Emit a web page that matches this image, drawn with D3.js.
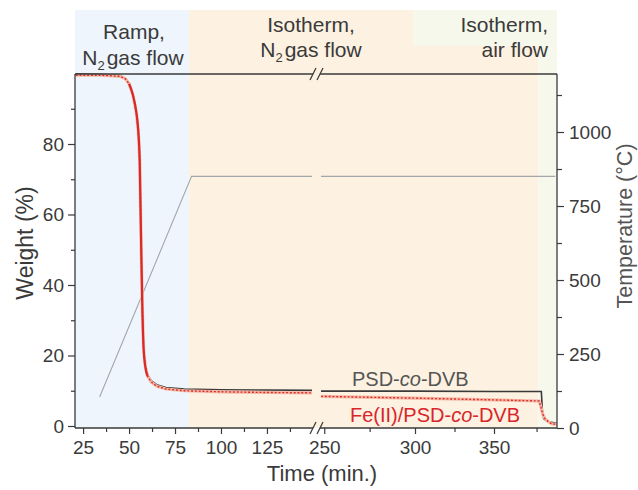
<!DOCTYPE html>
<html><head><meta charset="utf-8">
<script src="https://cdn.jsdelivr.net/npm/d3@7"></script>
<style>
body{margin:0;background:#fff}
svg{display:block;font-family:"Liberation Sans",Arial,Helvetica,sans-serif}
</style>
</head><body>
<svg id="chart" width="638" height="490"></svg>
<script>
// ---------- data ----------
const psdTime   = [21, 35, 45, 48, 50, 52, 54, 55, 55.8, 56.3, 56.8, 57.3, 57.9, 58.8, 60, 62, 65, 70, 80, 100, 125, 149.5,
                   248.2, 300, 350, 377.8, 378.4, 379.2, 382, 387];
const psdWeight = [99.9, 99.8, 99.4, 98.6, 97.2, 94.2, 89, 84, 75, 60, 45, 32, 22, 17.2, 14.6, 12.9, 11.7, 10.9, 10.5, 10.3, 10.2, 10.1,
                   9.9, 9.9, 9.8, 9.8, 4.5, 2.0, 1.2, 0.8];
const feTime    = [21, 35, 45, 48, 50, 52, 54, 55, 55.8, 56.3, 56.8, 57.3, 57.9, 58.8, 60, 62, 65, 70, 80, 100, 125, 149.5,
                   248.2, 300, 350, 376.5, 377.5, 378.5, 380, 382, 384, 387];
const feWeight  = [99.5, 99.5, 99.2, 98.5, 97.1, 94.1, 88.8, 83.8, 75, 60, 45, 32, 22, 17, 14.2, 12.5, 11.3, 10.5, 10.0, 9.7, 9.5, 9.4,
                   8.4, 7.9, 7.4, 7.1, 5.5, 3.5, 2.0, 1.2, 0.6, 0.5];
const feSolidRange = [49, 61];           // steep part drawn as solid line
const tempTime  = [34, 84, 149.5, 248.2, 386];
const tempValue = [105, 850, 850, 850, 850];

const regionStart = [20.6, 82.5, 376];
const regionEnd   = [82.5, 376, 387];
const airHeaderStart = 299;

const weightTicks = [0, 20, 40, 60, 80];
const weightMinor = [10, 30, 50, 70, 90];
const tempTicks   = [0, 250, 500, 750, 1000];
const tempMinor   = [125, 375, 625, 875, 1125];
const timeTicks   = [25, 50, 75, 100, 125, 250, 300, 350];
const timeMinor   = [37.5, 62.5, 87.5, 112.5, 137.5, 275, 325, 375];

const seriesNames = ["PSD-co-DVB", "Fe(II)/PSD-co-DVB"];

// ---------- layout ----------
const svg = d3.select("#chart");
const L = 75, R = 557, T = 74, B = 428, HEAD = 10;
const BREAK = 200;

const x = d3.scaleLinear()
  .domain([20.6, 149.5, 248.2, 300, 350, 387])
  .range([L, 312, 321, 415, 494, R]);
const yW = d3.scaleLinear().domain([-0.57, 99.86]).range([B, T]);
const yT = d3.scaleLinear().domain([0, 1196]).range([B, T]);

const txt = "#3a3a3a";
const regionColors = ["#eef5fc", "#fdf1e1", "#f6f8ec"];

// backgrounds
svg.selectAll("rect.region").data(regionStart).join("rect")
  .attr("class", "region")
  .attr("x", (d) => x(d))
  .attr("width", (d, i) => x(regionEnd[i]) - x(d))
  .attr("y", HEAD).attr("height", B - HEAD)
  .attr("fill", (d, i) => regionColors[i]);
svg.append("rect")
  .attr("x", x(airHeaderStart)).attr("y", HEAD)
  .attr("width", R - x(airHeaderStart)).attr("height", 36)
  .attr("fill", regionColors[2]);

// header texts
function n2(sel) {
  sel.append("tspan").text("N");
  sel.append("tspan").attr("font-size", 13).attr("dy", 5).text("2");
  sel.append("tspan").attr("dy", -5).attr("dx", 2).text("gas flow");
}
const hs = 21;
svg.append("text").attr("x", 134).attr("y", 39).attr("text-anchor", "middle")
  .attr("font-size", hs).attr("fill", txt).text("Ramp,");
svg.append("text").attr("x", 133).attr("y", 65).attr("text-anchor", "middle")
  .attr("font-size", hs).attr("fill", txt).call(n2);
svg.append("text").attr("x", 311).attr("y", 32).attr("text-anchor", "middle")
  .attr("font-size", hs).attr("fill", txt).text("Isotherm,");
svg.append("text").attr("x", 311).attr("y", 57).attr("text-anchor", "middle")
  .attr("font-size", hs).attr("fill", txt).call(n2);
svg.append("text").attr("x", 548).attr("y", 32).attr("text-anchor", "end")
  .attr("font-size", hs).attr("fill", txt).text("Isotherm,");
svg.append("text").attr("x", 548).attr("y", 57).attr("text-anchor", "end")
  .attr("font-size", hs).attr("fill", txt).text("air flow");

// ---------- lines ----------
function pts(tArr, vArr) { return tArr.map((t, i) => [t, vArr[i]]); }
function splitSeg(p) { return [p.filter((d) => d[0] < BREAK), p.filter((d) => d[0] > BREAK)]; }

const tempPts = pts(tempTime, tempValue);
const lineT = d3.line().x((d) => x(d[0])).y((d) => yT(d[1]));
svg.selectAll("path.temp").data(splitSeg(tempPts)).join("path")
  .attr("class", "temp").attr("d", lineT)
  .attr("fill", "none").attr("stroke", "#a3a7ab").attr("stroke-width", 1.1);

const lineW = d3.line().x((d) => x(d[0])).y((d) => yW(d[1]));
const psdPts = pts(psdTime, psdWeight);
svg.selectAll("path.psd").data(splitSeg(psdPts)).join("path")
  .attr("class", "psd").attr("d", lineW)
  .attr("fill", "none").attr("stroke", "#3a3a3a").attr("stroke-width", 1.6);

const fePts = pts(feTime, feWeight);
svg.selectAll("path.feBg").data(splitSeg(fePts)).join("path")
  .attr("class", "feBg").attr("d", lineW)
  .attr("fill", "none").attr("stroke", "#f6b9a8").attr("stroke-width", 3.2);
svg.selectAll("path.feDot").data(splitSeg(fePts)).join("path")
  .attr("class", "feDot").attr("d", lineW)
  .attr("fill", "none").attr("stroke", "#d8322c").attr("stroke-width", 1.4)
  .attr("stroke-dasharray", "2,1.8");
const feSolid = fePts.filter((d) => d[0] >= feSolidRange[0] && d[0] <= feSolidRange[1]);
svg.append("path").datum(feSolid).attr("d", lineW.curve(d3.curveMonotoneX))
  .attr("fill", "none").attr("stroke", "#d92a2a").attr("stroke-width", 2.2);

// ---------- axes ----------
const ax = "#3a3a3a";
const fs = 19;
const gL = svg.append("g").attr("transform", `translate(${L},0)`);
gL.call(d3.axisLeft(yW).tickValues(weightTicks).tickSize(7).tickPadding(4).tickFormat(d3.format("d")));
gL.append("g").call(d3.axisLeft(yW).tickValues(weightMinor).tickSize(4).tickFormat(""));
const gR = svg.append("g").attr("transform", `translate(${R},0)`);
gR.call(d3.axisRight(yT).tickValues(tempTicks).tickSize(7).tickPadding(5).tickFormat(d3.format("d")));
gR.append("g").call(d3.axisRight(yT).tickValues(tempMinor).tickSize(5).tickFormat(""));
const gB = svg.append("g").attr("transform", `translate(0,${B})`);
gB.call(d3.axisBottom(x).tickValues(timeTicks).tickSize(6).tickPadding(7).tickFormat(d3.format("d")));
gB.append("g").call(d3.axisBottom(x).tickValues(timeMinor).tickSize(4).tickFormat(""));

[gL, gR, gB].forEach((g) => {
  g.selectAll(".domain").remove();
  g.selectAll("line").attr("stroke", ax).attr("stroke-width", 1.2);
  g.selectAll("text").attr("font-size", fs).attr("fill", txt).attr("font-family", null);
});

// axis lines with breaks
const segs = [[L, 313], [320, R]];
[T, B].forEach((yy) => {
  segs.forEach((s) => svg.append("line").attr("x1", s[0]).attr("x2", s[1]).attr("y1", yy).attr("y2", yy)
    .attr("stroke", ax).attr("stroke-width", 1.3));
  [310, 317].forEach((bx) => svg.append("line")
    .attr("x1", bx).attr("y1", yy + 6).attr("x2", bx + 6).attr("y2", yy - 6)
    .attr("stroke", ax).attr("stroke-width", 1.2));
});
svg.append("line").attr("x1", L).attr("x2", L).attr("y1", T).attr("y2", B).attr("stroke", ax).attr("stroke-width", 1.3);
svg.append("line").attr("x1", R).attr("x2", R).attr("y1", T).attr("y2", B).attr("stroke", ax).attr("stroke-width", 1.3);

// axis titles
svg.append("text").attr("transform", "translate(33,243) rotate(-90)").attr("text-anchor", "middle")
  .attr("font-size", 23).attr("fill", txt).text("Weight (%)");
svg.append("text").attr("transform", "translate(632,226) rotate(-90)").attr("text-anchor", "middle")
  .attr("font-size", 21.5).attr("fill", "#555").text("Temperature (°C)");
svg.append("text").attr("x", 322).attr("y", 481).attr("text-anchor", "middle")
  .attr("font-size", 22).attr("fill", txt).text("Time (min.)");

// series labels
function coLabel(sel, name) {
  const parts = name.split("co");
  sel.append("tspan").text(parts[0]);
  sel.append("tspan").attr("font-style", "italic").text("co");
  sel.append("tspan").text(parts[1]);
}
svg.append("text").attr("x", 352).attr("y", 386).attr("font-size", 20).attr("fill", "#555")
  .call(coLabel, seriesNames[0]);
svg.append("text").attr("x", 350).attr("y", 422).attr("font-size", 20).attr("fill", "#d8262b")
  .call(coLabel, seriesNames[1]);
</script>
</body></html>
